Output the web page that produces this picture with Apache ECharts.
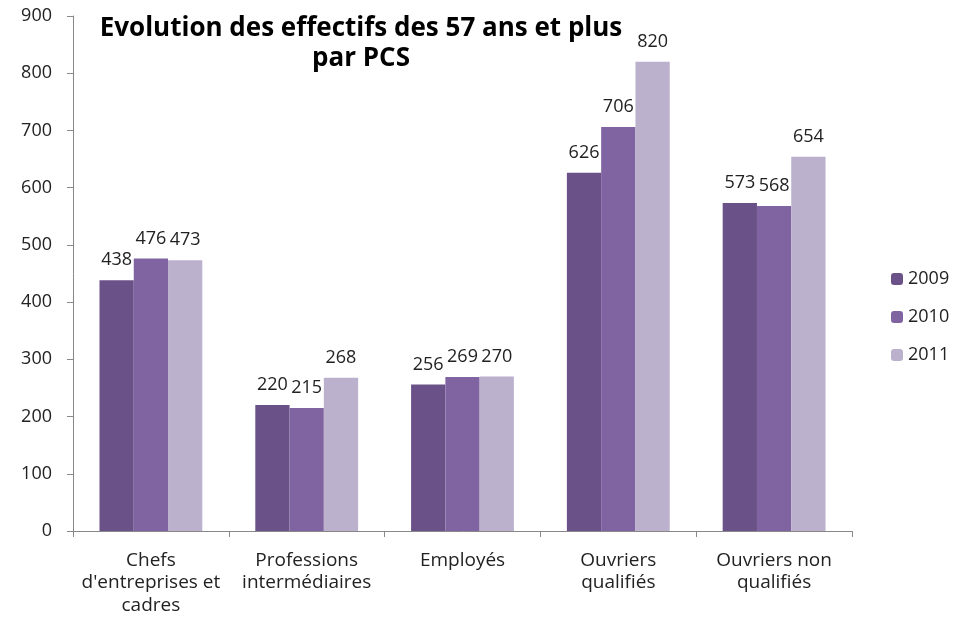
<!DOCTYPE html>
<html><head><meta charset="utf-8">
<script src="https://cdn.jsdelivr.net/npm/echarts@6/dist/echarts.min.js"></script>
<style>html,body{margin:0;padding:0;background:#fff}#c{width:963px;height:623px}</style>
</head><body><div id="c"></div>
<script>
const categories = ["Chefs\nd'entreprises et\ncadres", "Professions\nintermédiaires", "Employés", "Ouvriers\nqualifiés", "Ouvriers non\nqualifiés"];
const seriesNames = ["2009", "2010", "2011"];
const v2009 = [438, 220, 256, 626, 573];
const v2010 = [476, 215, 269, 706, 568];
const v2011 = [473, 268, 270, 820, 654];
const yTicks = {min: 0, max: 900, interval: 100};
const colors = ["#6A5289", "#8064A2", "#BBB1CD"];
const font = "'Open Sans', 'Liberation Sans', sans-serif";

const chart = echarts.init(document.getElementById('c'));
const mk = (name, data, i) => ({
  name, type: 'bar', data, barGap: '0%', barCategoryGap: '34%',
  itemStyle: {color: colors[i]},
  label: {show: true, position: 'top', color: '#222', fontSize: 18, fontFamily: font, distance: 11},
  animation: false
});
chart.setOption({
  animation: false,
  title: {
    text: 'Evolution des effectifs des 57 ans et plus\npar PCS',
    left: 356, top: 9, textAlign: 'center',
    textStyle: {fontFamily: font, fontWeight: 'bold', fontSize: 26, lineHeight: 30, color: '#000'}
  },
  legend: {
    orient: 'vertical', left: 886, top: 265, itemWidth: 12, itemHeight: 12, itemGap: 20,
    textStyle: {fontFamily: font, fontSize: 18, color: '#222'},
    data: seriesNames
  },
  grid: {left: 73, right: 111, top: 16, bottom: 92},
  xAxis: {
    type: 'category', data: categories,
    axisLine: {lineStyle: {color: '#888'}},
    axisTick: {show: true, length: 6, lineStyle: {color: '#888'}},
    axisLabel: {fontFamily: font, fontSize: 19, color: '#222', lineHeight: 22.5, margin: 18, interval: 0}
  },
  yAxis: {
    type: 'value', min: yTicks.min, max: yTicks.max, interval: yTicks.interval,
    axisLine: {show: true, lineStyle: {color: '#888'}},
    axisTick: {show: true, length: 6, lineStyle: {color: '#888'}},
    splitLine: {show: false},
    axisLabel: {fontFamily: font, fontSize: 18, color: '#222', margin: 21}
  },
  series: [mk(seriesNames[0], v2009, 0), mk(seriesNames[1], v2010, 1), mk(seriesNames[2], v2011, 2)]
});
</script></body></html>
